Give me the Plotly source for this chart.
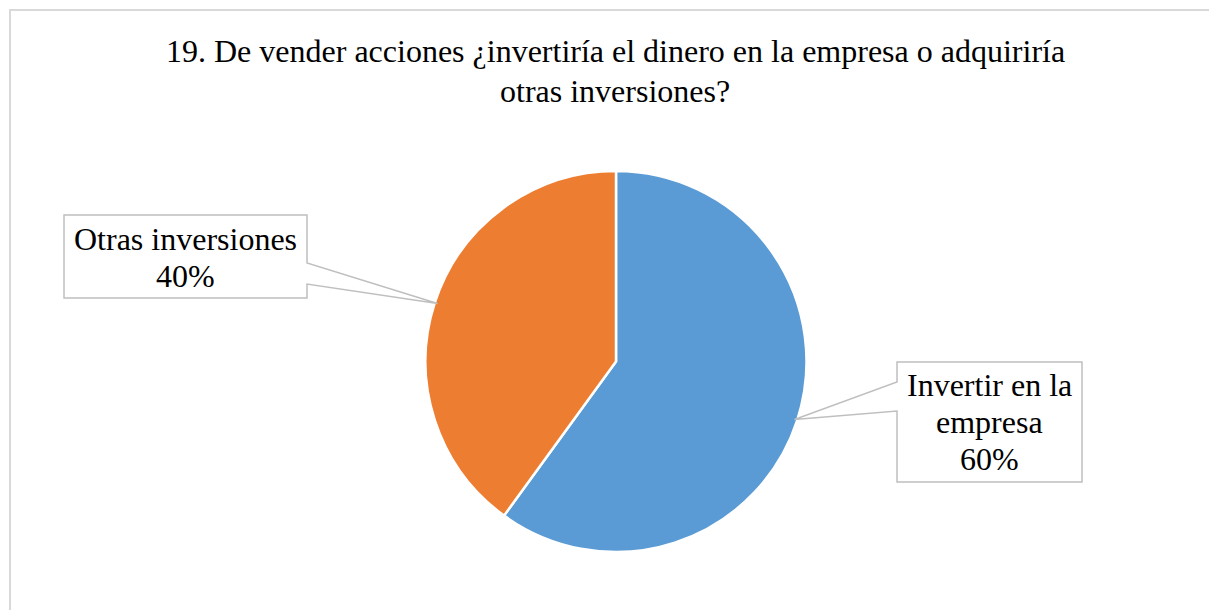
import math
import plotly.graph_objects as go

# Survey answers
categories = ["Invertir en la empresa", "Otras inversiones"]
label_lines = [["Invertir en la", "empresa"], ["Otras inversiones"]]
values = [60, 40]
colors = ["#5B9BD5", "#ED7D31"]
title_lines = ["19. De vender acciones ¿invertiría el dinero en la empresa o adquiriría",
               "otras inversiones?"]

W, H = 1209, 610
CX, CY, R = 616, 361.5, 190.5   # pie centre / radius in pixels
SERIF = "Times New Roman, Liberation Serif, Tinos, serif"
FONT_SIZE = 32


def px(x):
    return x / W


def py(y):
    return 1 - y / H


def text_line(text, x, baseline, size=FONT_SIZE):
    # one line of text, positioned by its baseline in pixels
    return dict(text=text, x=px(x), y=py(baseline - 0.33 * size),
                xref="paper", yref="paper", showarrow=False,
                xanchor="center", yanchor="middle",
                font=dict(family=SERIF, size=size, color="#000000"))


fig = go.Figure()
fig.add_trace(go.Pie(
    labels=categories,
    values=values,
    sort=False,
    direction="clockwise",
    rotation=0,
    marker=dict(colors=colors, line=dict(color="white", width=2.5)),
    textinfo="none",
    hoverinfo="label+percent",
    showlegend=False,
    domain=dict(x=[px(CX - R), px(CX + R)], y=[py(CY + R), py(CY - R)]),
))

# Anchor point on each slice edge (mid-angle, clockwise from 12 o'clock)
total = sum(values)
anchors = []
start = 0.0
for v in values:
    mid = (start + v / 2) / total * 2 * math.pi
    anchors.append((CX + R * math.sin(mid) * 0.985, CY - R * math.cos(mid) * 0.985))
    start += v

# Callout boxes: (left, top, right, bottom, pointer side, pointer y1, y2, first baseline)
boxes = [
    (897, 362, 1082, 482, "left", 382, 411, 396),
    (64, 215, 307, 298, "right", 263, 284, 250),
]
LINE_STEP = 37

shapes = [dict(type="rect", xref="paper", yref="paper",
               x0=px(10), y0=py(10), x1=px(1230), y1=py(640),
               line=dict(color="#D9D9D9", width=2), fillcolor="rgba(0,0,0,0)")]

annotations = [text_line(title_lines[0], 615, 62), text_line(title_lines[1], 615, 102)]

for i, (l, t, r, b, side, y1, y2, base) in enumerate(boxes):
    ax, ay = anchors[i]
    if side == "right":
        pts = [(l, t), (r, t), (r, y1), (ax, ay), (r, y2), (r, b), (l, b)]
    else:
        pts = [(l, t), (r, t), (r, b), (l, b), (l, y2), (ax, ay), (l, y1)]
    path = "M " + " L ".join(f"{px(x):.5f},{py(y):.5f}" for x, y in pts) + " Z"
    shapes.append(dict(type="path", xref="paper", yref="paper", path=path,
                       line=dict(color="#BFBFBF", width=1.5), fillcolor="white"))
    pct = round(values[i] / total * 100)
    lines = label_lines[i] + [f"{pct}%"]
    for k, line in enumerate(lines):
        annotations.append(text_line(line, (l + r) / 2, base + k * LINE_STEP))

fig.update_layout(
    width=W, height=H,
    margin=dict(l=0, r=0, t=0, b=0),
    paper_bgcolor="white",
    plot_bgcolor="white",
    shapes=shapes,
    annotations=annotations,
)

fig.write_html("out.html")
